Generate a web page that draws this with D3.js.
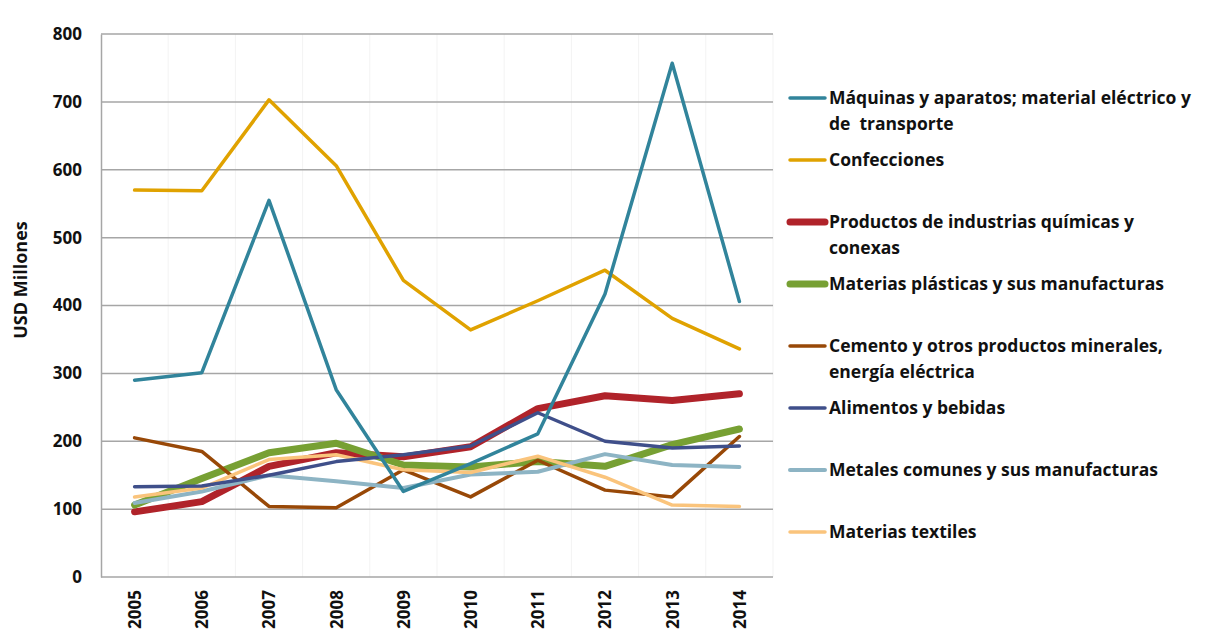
<!DOCTYPE html>
<html>
<head>
<meta charset="utf-8">
<script src="https://cdn.jsdelivr.net/npm/d3@7"></script>
<style>
  body { margin: 0; background: #fff; }
  text { font-family: "Open Sans", Lato, sans-serif; font-weight: bold; fill: #111; }
</style>
</head>
<body>
<div id="chart"></div>
<script>
// data
var years = ['2005','2006','2007','2008','2009','2010','2011','2012','2013','2014'];

var maquinas   = [290, 301, 555, 276, 126, 167, 211, 417, 757, 406];
var confec     = [570, 569, 703, 606, 437, 364, 407, 452, 381, 336];
var quimicas   = [96, 111, 163, 183, 177, 192, 248, 267, 260, 270];
var plasticas  = [106, 145, 183, 197, 165, 162, 170, 163, 195, 218];
var cemento    = [205, 185, 104, 102, 158, 118, 172, 128, 118, 207];
var alimentos  = [133, 134, 150, 170, 180, 193, 242, 200, 190, 193];
var metales    = [109, 126, 150, 141, 131, 151, 155, 181, 165, 162];
var textiles   = [118, 131, 173, 180, 158, 154, 178, 147, 106, 104];

var yTicks = [0, 100, 200, 300, 400, 500, 600, 700, 800];

var series = [
  {name: ['Máquinas y aparatos; material eléctrico y', 'de  transporte'], values: maquinas, color: '#31849b', w: 3.5},
  {name: ['Confecciones'], values: confec, color: '#e0a200', w: 3.5},
  {name: ['Productos de industrias químicas y', 'conexas'], values: quimicas, color: '#b0232a', w: 7},
  {name: ['Materias plásticas y sus manufacturas'], values: plasticas, color: '#77a033', w: 7},
  {name: ['Cemento y otros productos minerales,', 'energía eléctrica'], values: cemento, color: '#984807', w: 3.5},
  {name: ['Alimentos y bebidas'], values: alimentos, color: '#3f4f8a', w: 3.5},
  {name: ['Metales comunes y sus manufacturas'], values: metales, color: '#8db4c4', w: 4},
  {name: ['Materias textiles'], values: textiles, color: '#fac47c', w: 3.5}
];

// drawing order (thin lines drawn over the thick ones like in the original)
var drawOrder = [2, 3, 4, 6, 7, 5, 1, 0];

var width = 1212, height = 635;
var plot = {left: 101, right: 773, top: 34, bottom: 577};

var svg = d3.select('#chart')
  .append('svg')
  .attr('width', width)
  .attr('height', height);

var x = d3.scalePoint()
  .domain(years)
  .range([plot.left, plot.right])
  .padding(0.5);

var y = d3.scaleLinear()
  .domain([0, 800])
  .range([plot.bottom, plot.top]);

// faint vertical category separators
var step = x.step();
svg.append('g')
  .selectAll('line')
  .data(years)
  .enter()
  .append('line')
  .attr('x1', function(d){ return x(d) + step / 2; })
  .attr('x2', function(d){ return x(d) + step / 2; })
  .attr('y1', plot.top)
  .attr('y2', plot.bottom)
  .attr('stroke', '#f3f3f3')
  .attr('stroke-width', 1);

// gridlines
svg.append('g')
  .selectAll('line')
  .data(yTicks.filter(function(d){ return d > 0; }))
  .enter()
  .append('line')
  .attr('x1', plot.left)
  .attr('x2', plot.right)
  .attr('y1', function(d){ return y(d); })
  .attr('y2', function(d){ return y(d); })
  .attr('stroke', '#a6a6a6')
  .attr('stroke-width', 1.5);

// y axis
var yAxis = svg.append('g')
  .attr('transform', 'translate(' + plot.left + ',0)')
  .call(d3.axisLeft(y).tickValues(yTicks).tickSize(0).tickPadding(19));
yAxis.select('.domain').attr('stroke', '#a6a6a6').attr('stroke-width', 1.5);
yAxis.selectAll('text')
  .style('font-size', '17px')
  .style('font-family', '"Open Sans", sans-serif')
  .style('font-weight', 'bold')
  .attr('fill', '#111');

// x axis
var xAxis = svg.append('g')
  .attr('transform', 'translate(0,' + plot.bottom + ')')
  .call(d3.axisBottom(x).tickSize(0).tickPadding(0));
xAxis.select('.domain').remove();
xAxis.append('line')
  .attr('x1', plot.left).attr('x2', plot.right)
  .attr('stroke', '#a6a6a6').attr('stroke-width', 1.5);
xAxis.selectAll('.tick text')
  .attr('transform', 'rotate(-90)')
  .attr('text-anchor', 'end')
  .attr('x', -13)
  .attr('y', 0)
  .attr('dy', '0.35em')
  .style('font-size', '17px')
  .style('font-family', '"Open Sans", sans-serif')
  .style('font-weight', 'bold')
  .attr('fill', '#111');

// y axis title
svg.append('text')
  .attr('transform', 'translate(21,' + 280 + ') rotate(-90)')
  .attr('text-anchor', 'middle')
  .attr('dy', '0.35em')
  .style('font-size', '18px')
  .text('USD Millones');

// lines
var line = d3.line()
  .x(function(d, i){ return x(years[i]); })
  .y(function(d){ return y(d); });

svg.append('g')
  .selectAll('path')
  .data(drawOrder.map(function(i){ return series[i]; }))
  .enter()
  .append('path')
  .attr('d', function(s){ return line(s.values); })
  .attr('fill', 'none')
  .attr('stroke', function(s){ return s.color; })
  .attr('stroke-width', function(s){ return s.w; })
  .attr('stroke-linejoin', 'round')
  .attr('stroke-linecap', 'round');

// legend
var legend = svg.append('g');
var legY = d3.scaleLinear().domain([0, 7]).range([98, 532]);

var item = legend.selectAll('g')
  .data(series)
  .enter()
  .append('g')
  .attr('transform', function(s, i){ return 'translate(0,' + legY(i) + ')'; });

item.append('line')
  .attr('x1', 790).attr('x2', 825)
  .attr('y1', 0).attr('y2', 0)
  .attr('stroke', function(s){ return s.color; })
  .attr('stroke-width', function(s){ return s.w; })
  .attr('stroke-linecap', 'round');

item.each(function(s){
  var t = d3.select(this).append('text')
    .attr('x', 829)
    .attr('y', 0)
    .style('font-size', '17.5px');
  s.name.forEach(function(part, k){
    t.append('tspan')
      .attr('x', 829)
      .attr('dy', k === 0 ? '0.35em' : '26px')
      .attr('xml:space', 'preserve')
      .text(part);
  });
});
</script>
</body>
</html>
